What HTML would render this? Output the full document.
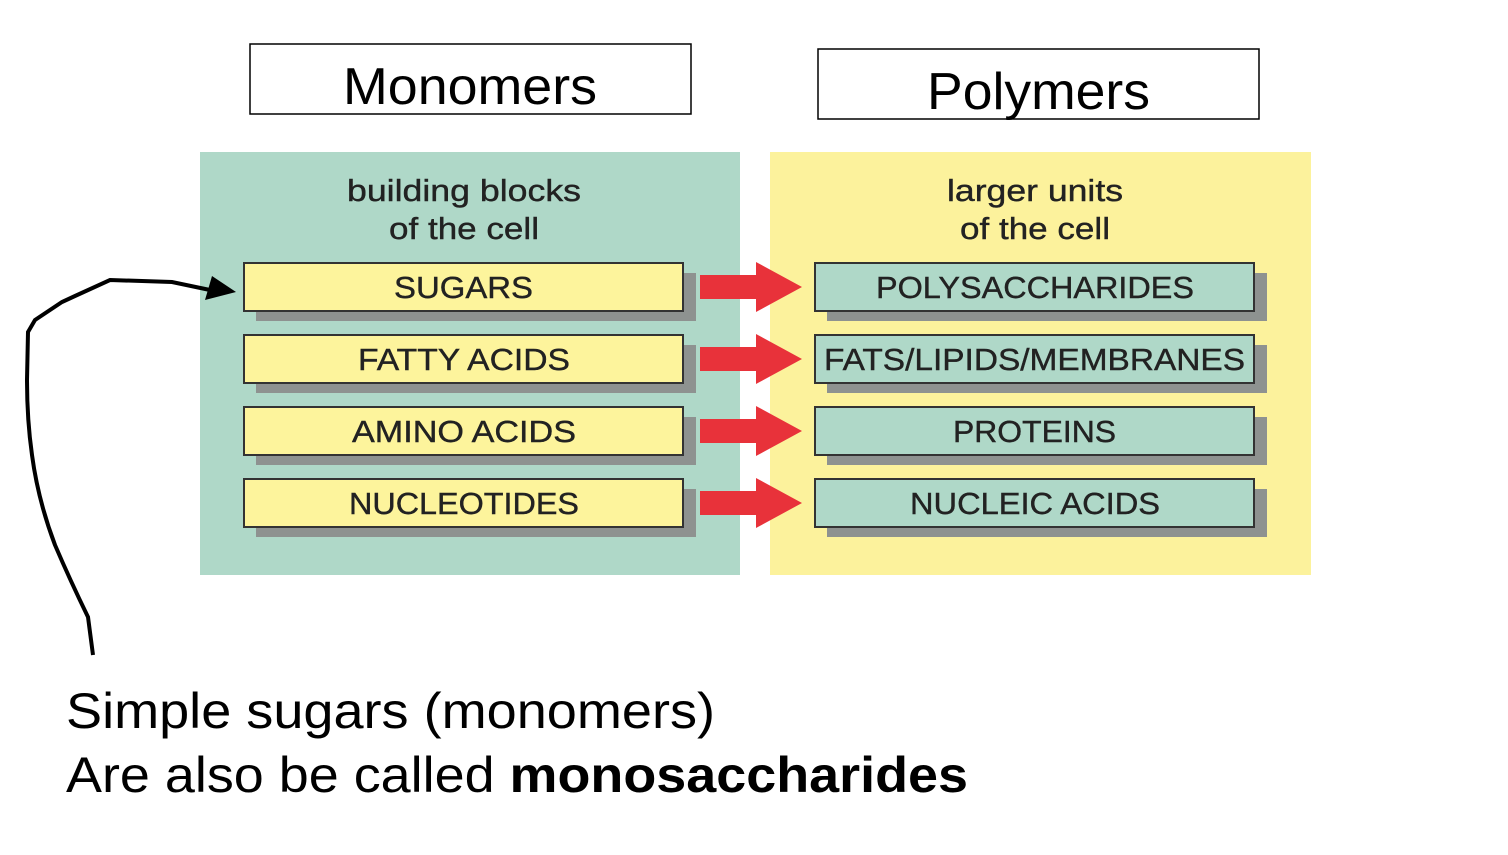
<!DOCTYPE html>
<html><head><style>
body{margin:0;background:#fff;width:1508px;height:850px;overflow:hidden;}
svg text{font-family:"Liberation Sans",sans-serif;}
</style></head><body>
<svg width="1508" height="850" viewBox="0 0 1508 850" xmlns="http://www.w3.org/2000/svg">
<rect x="250" y="44" width="441" height="70" fill="#fff" stroke="#000" stroke-width="1.5"/>
<text x="343" y="104" font-size="52" textLength="254" lengthAdjust="spacingAndGlyphs">Monomers</text>
<rect x="818" y="49" width="441" height="70" fill="#fff" stroke="#000" stroke-width="1.5"/>
<text x="927" y="109" font-size="52" textLength="223" lengthAdjust="spacingAndGlyphs">Polymers</text>
<rect x="200" y="152" width="540" height="423" fill="#afd8c8"/>
<rect x="770" y="152" width="541" height="423" fill="#fcf29c"/>
<g font-size="31" fill="#222" stroke="#222" stroke-width="0.4">
<text x="347" y="201" textLength="234" lengthAdjust="spacingAndGlyphs">building blocks</text>
<text x="389" y="239" textLength="150" lengthAdjust="spacingAndGlyphs">of the cell</text>
<text x="947" y="201" textLength="176" lengthAdjust="spacingAndGlyphs">larger units</text>
<text x="960" y="239" textLength="150" lengthAdjust="spacingAndGlyphs">of the cell</text>
</g>
<g font-size="31" fill="#222" stroke="#222" stroke-width="0.4">
<rect x="256" y="273" width="440" height="48" fill="#8e9290" stroke="none"/>
<rect x="244" y="263" width="439" height="48" fill="#fdf49c" stroke="#333" stroke-width="2"/>
<text x="394" y="298" textLength="139" lengthAdjust="spacingAndGlyphs">SUGARS</text>
<rect x="256" y="345" width="440" height="48" fill="#8e9290" stroke="none"/>
<rect x="244" y="335" width="439" height="48" fill="#fdf49c" stroke="#333" stroke-width="2"/>
<text x="358" y="370" textLength="212" lengthAdjust="spacingAndGlyphs">FATTY ACIDS</text>
<rect x="256" y="417" width="440" height="48" fill="#8e9290" stroke="none"/>
<rect x="244" y="407" width="439" height="48" fill="#fdf49c" stroke="#333" stroke-width="2"/>
<text x="352" y="442" textLength="224" lengthAdjust="spacingAndGlyphs">AMINO ACIDS</text>
<rect x="256" y="489" width="440" height="48" fill="#8e9290" stroke="none"/>
<rect x="244" y="479" width="439" height="48" fill="#fdf49c" stroke="#333" stroke-width="2"/>
<text x="349" y="514" textLength="230" lengthAdjust="spacingAndGlyphs">NUCLEOTIDES</text>

<rect x="827" y="273" width="440" height="48" fill="#8e9290" stroke="none"/>
<rect x="815" y="263" width="439" height="48" fill="#afd8c8" stroke="#333" stroke-width="2"/>
<text x="876" y="298" textLength="318" lengthAdjust="spacingAndGlyphs">POLYSACCHARIDES</text>
<rect x="827" y="345" width="440" height="48" fill="#8e9290" stroke="none"/>
<rect x="815" y="335" width="439" height="48" fill="#afd8c8" stroke="#333" stroke-width="2"/>
<text x="824" y="370" textLength="421" lengthAdjust="spacingAndGlyphs">FATS/LIPIDS/MEMBRANES</text>
<rect x="827" y="417" width="440" height="48" fill="#8e9290" stroke="none"/>
<rect x="815" y="407" width="439" height="48" fill="#afd8c8" stroke="#333" stroke-width="2"/>
<text x="953" y="442" textLength="163" lengthAdjust="spacingAndGlyphs">PROTEINS</text>
<rect x="827" y="489" width="440" height="48" fill="#8e9290" stroke="none"/>
<rect x="815" y="479" width="439" height="48" fill="#afd8c8" stroke="#333" stroke-width="2"/>
<text x="910" y="514" textLength="250" lengthAdjust="spacingAndGlyphs">NUCLEIC ACIDS</text>
</g>
<g fill="#e8323a">
<polygon points="700,275 756,275 756,262 802,287 756,312 756,299 700,299"/>
<polygon points="700,347 756,347 756,334 802,359 756,384 756,371 700,371"/>
<polygon points="700,419 756,419 756,406 802,431 756,456 756,443 700,443"/>
<polygon points="700,491 756,491 756,478 802,503 756,528 756,515 700,515"/>
</g>
<path d="M93,655 L88,617 Q70,580 55,545 Q38,500 32,455 Q27,420 27,380 L28,332 L35,320 L62,302 L75,296 L110,280 L172,282 L210,290" fill="none" stroke="#000" stroke-width="4"/>
<polygon points="236,292 205,300 212,276" fill="#000"/>
<text x="66" y="728" font-size="50" textLength="649" lengthAdjust="spacingAndGlyphs">Simple sugars (monomers)</text>
<text x="66" y="792" font-size="50" textLength="902" lengthAdjust="spacingAndGlyphs">Are also be called <tspan font-weight="bold">monosaccharides</tspan></text>
</svg>
</body></html>
